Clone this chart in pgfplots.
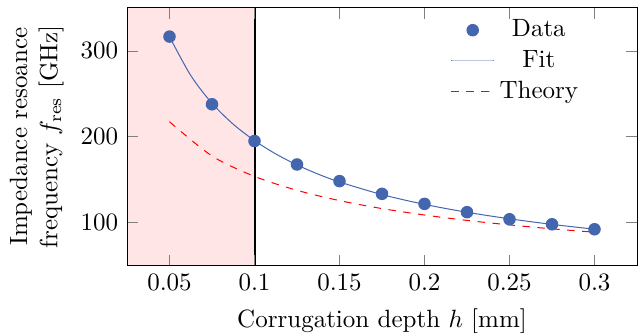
\documentclass[border=0pt]{standalone}
\usepackage{pgfplots}
\pgfplotsset{compat=1.18}
\definecolor{datablue}{RGB}{68,102,175}
\begin{document}
\begin{tikzpicture}
\begin{axis}[
  scale only axis,
  width=204pt, height=103pt,
  xmin=0.025, xmax=0.325,
  ymin=50, ymax=350,
  xtick={0.05,0.1,0.15,0.2,0.25,0.3},
  xticklabels={0.05,0.1,0.15,0.2,0.25,0.3},
  ytick={100,200,300},
  xlabel={Corrugation depth $h$ [mm]},
  ylabel={Impedance resoance\\frequency $f_{\mathrm{res}}$ [GHz]},
  ylabel style={align=center},
  legend style={draw=none, fill=none, at={(0.91,0.995)}, anchor=north east},
  legend cell align=center,
  axis on top,
]
\addplot[draw=none, fill=red!10, forget plot] coordinates {(0.025,50) (0.1,50) (0.1,350) (0.025,350)} -- cycle;
\addplot[only marks, mark=*, mark size=2.3pt, datablue] coordinates {
(0.05,316.7) (0.075,237.8) (0.1,195.0) (0.125,167.7) (0.15,148.3) (0.175,133.5)
(0.2,121.8) (0.225,112.1) (0.25,103.9) (0.275,98.0) (0.3,92.2)};
\addlegendentry{Data}
\addplot[datablue, smooth, no marks, line width=0.4pt] coordinates {
(0.05,316.5) (0.0625,271.4) (0.075,239.0) (0.0875,214.6) (0.1,195.5) (0.1125,180.0)
(0.125,167.2) (0.1375,156.4) (0.15,147.3) (0.175,132.6) (0.2,121.2) (0.225,112.0)
(0.25,104.4) (0.275,97.9) (0.3,92.3)};
\addlegendentry{Fit}
\addplot[red, dashed, no marks, smooth, line width=0.4pt] coordinates {
(0.05,217.5) (0.075,177.6) (0.1,153.8) (0.125,137.6) (0.15,125.6) (0.175,116.3)
(0.2,108.8) (0.225,102.5) (0.25,97.3) (0.275,92.7) (0.3,88.8)};
\addlegendentry{Theory}
\draw[black, line width=0.8pt] (axis cs:0.1,50) -- (axis cs:0.1,350);
\end{axis}
\pgfresetboundingbox
\path ([shift={(-50.8pt,-26.9pt)}]current axis.south west) rectangle ([shift={(1.6pt,3.2pt)}]current axis.north east);
\end{tikzpicture}
\end{document}
